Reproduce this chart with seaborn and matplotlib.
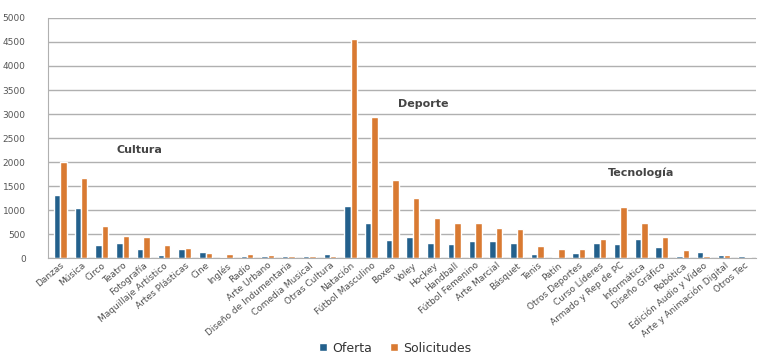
import matplotlib
matplotlib.use("Agg")
import matplotlib.pyplot as plt
import seaborn as sns
import pandas as pd
from matplotlib.patches import Patch

categories = ["Danzas", "Música", "Circo", "Teatro", "Fotografía", "Maquillaje Artístico",
              "Artes Plásticas", "Cine", "Inglés", "Radio", "Arte Urbano",
              "Diseño de Indumentaria", "Comedia Musical", "Otras Cultura", "Natación",
              "Fútbol Masculino", "Boxeo", "Voley", "Hockey", "Handball", "Fútbol Femenino",
              "Arte Marcial", "Básquet", "Tenis", "Patín", "Otros Deportes", "Curso Líderes",
              "Armado y Rep de PC", "Informática", "Diseño Gráfico", "Robótica",
              "Edición Audio y Video", "Arte y Animación Digital", "Otros Tec"]
oferta = [1320, 1050, 270, 320, 200, 70, 200, 130, 30, 50, 40, 50, 40, 80, 1080,
          730, 370, 430, 320, 300, 360, 350, 310, 90, 20, 110, 320, 300, 400, 230,
          50, 120, 60, 40]
solicitudes = [2000, 1670, 660, 460, 440, 280, 210, 100, 90, 90, 60, 50, 40, 50, 4560,
               2930, 1630, 1250, 830, 740, 740, 620, 610, 250, 180, 180, 400, 1060, 730, 450,
               170, 50, 60, 30]
series_names = ["Oferta", "Solicitudes"]
group_labels = ["Cultura", "Deporte", "Tecnología"]

colors = ["#23608c", "#d97a32"]

df = pd.DataFrame({
    "cat": categories * 2,
    "valor": oferta + solicitudes,
    "serie": [series_names[0]] * len(categories) + [series_names[1]] * len(categories),
})

sns.set_style("white")
plt.rcParams['font.family'] = ['DejaVu Sans']

fig = plt.figure(figsize=(7.6, 3.59), dpi=100)
ax = fig.add_axes([0.063, 0.281, 0.932, 0.669])

sns.barplot(data=df, x="cat", y="valor", hue="serie", order=categories,
            hue_order=series_names, palette=colors, width=0.62, ax=ax,
            saturation=1, legend=False, errorbar=None)

ax.set_ylim(0, 5000)
ax.set_yticks(range(0, 5001, 500))
ax.yaxis.grid(True, color="#b0b0b0", linewidth=1.0)
ax.set_axisbelow(True)
ax.set_xlim(-0.6, len(categories) - 0.45)
ax.set_xlabel("")
ax.set_ylabel("")
for s in ["top", "right"]:
    ax.spines[s].set_visible(False)
ax.spines["left"].set_color("#b0b0b0")
ax.spines["bottom"].set_color("#b0b0b0")
ax.tick_params(axis="y", labelsize=6.5, colors="#555555", length=0, pad=16)
ax.tick_params(axis="x", length=0, pad=2)
ax.set_xticks(range(len(categories)))
ax.set_xticklabels(categories, rotation=40, ha="right", rotation_mode="anchor",
                   fontsize=6.5, color="#505050")

txt_kw = dict(fontsize=8, color="#444444", fontweight="bold", ha="center", va="center")
ax.text(3.8, 2250, group_labels[0], **txt_kw)
ax.text(17.5, 3210, group_labels[1], **txt_kw)
ax.text(28.0, 1770, group_labels[2], **txt_kw)

handles = [Patch(facecolor=colors[0]), Patch(facecolor=colors[1])]
fig.legend(handles, series_names, loc="center", bbox_to_anchor=(0.52, 0.03), ncol=2,
           frameon=False, fontsize=9, handlelength=0.6, handleheight=0.6,
           columnspacing=1.5, handletextpad=0.4, labelcolor="#333333")

fig.savefig("out.png", dpi=100, facecolor="white")
